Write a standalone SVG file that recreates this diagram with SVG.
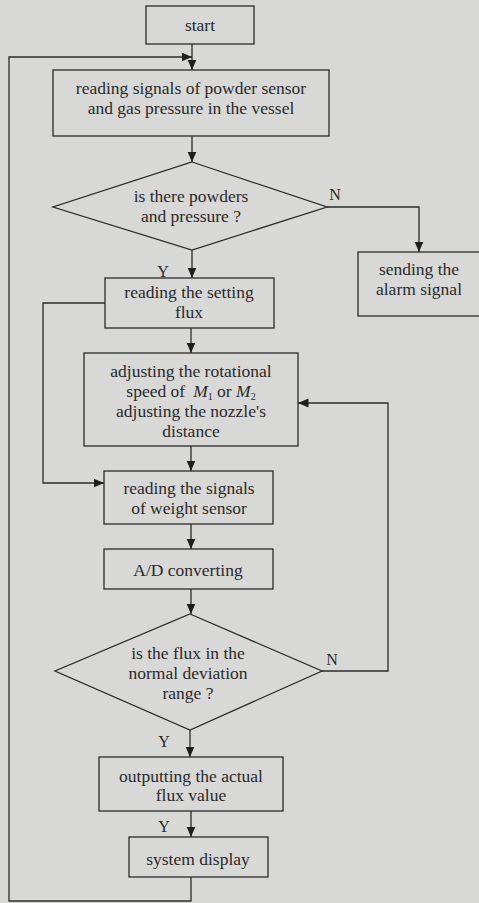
<svg xmlns="http://www.w3.org/2000/svg" width="479" height="903" viewBox="0 0 479 903">
<defs>
<marker id="ah" markerUnits="userSpaceOnUse" markerWidth="11" markerHeight="10" refX="10.5" refY="4.5" orient="auto">
<path d="M0,0 L10.5,4.5 L0,9 z" fill="#1e1e1e"/>
</marker>
</defs>
<style>
.n rect, .n polygon { fill: none; stroke: #2b2b2b; stroke-width: 1.3; }
text { font-family: "Liberation Serif", "Times New Roman", serif; font-size: 17.5px; fill: #2a2a2a; text-anchor: middle; }
.c line, .c polyline { fill: none; stroke: #2b2b2b; stroke-width: 1.3; marker-end: url(#ah); }
.lbl { font-size: 16px; }
</style>
<rect x="0" y="0" width="479" height="903" fill="#d8d8d6"/>
<g class="c" id="connectors">
<line x1="192" y1="44" x2="192" y2="70"/>
<polyline points="191,877 191,901 9,901 9,57 192,57"/>
<line x1="192" y1="136" x2="192" y2="162"/>
<polyline points="327,207 419,207 419,252"/>
<line x1="192" y1="250" x2="192" y2="278"/>
<line x1="191" y1="328" x2="191" y2="353"/>
<polyline points="105,303 43,303 43,483 104,483"/>
<line x1="191" y1="446" x2="191" y2="471"/>
<line x1="191" y1="524" x2="191" y2="549"/>
<line x1="191" y1="589" x2="191" y2="614"/>
<polyline points="322,671 388,671 388,403 298,403"/>
<line x1="190" y1="730" x2="190" y2="757"/>
<line x1="191" y1="811" x2="191" y2="837"/>
</g>
<g class="n" id="start"><rect x="146" y="6" width="108" height="38"/><text x="200" y="31">start</text></g>
<g class="n" id="read-signals"><rect x="53" y="70" width="276" height="66"/><text x="191" y="94">reading signals of powder sensor</text><text x="191" y="114">and gas pressure in the vessel</text></g>
<g class="n" id="decision1"><polygon points="192,162 327,207 192,250 53,207"/><text x="191" y="202">is there powders</text><text x="191" y="222">and pressure ?</text></g>
<g class="n" id="alarm"><rect x="358" y="252" width="124" height="64"/><text x="419" y="275">sending the</text><text x="419" y="295">alarm signal</text></g>
<g class="n" id="setting-flux"><rect x="105" y="278" width="169" height="50"/><text x="189" y="298">reading the setting</text><text x="189" y="318">flux</text></g>
<g class="n" id="adjust"><rect x="84" y="353" width="214" height="93"/><text x="191" y="377">adjusting the rotational</text><text x="191" y="397">speed of<tspan dx="8" font-style="italic">M</tspan><tspan font-size="10" dy="3">1</tspan><tspan dy="-3"> or </tspan><tspan font-style="italic">M</tspan><tspan font-size="10" dy="3">2</tspan></text><text x="191" y="417">adjusting the nozzle's</text><text x="191" y="437">distance</text></g>
<g class="n" id="weight"><rect x="104" y="471" width="169" height="53"/><text x="189" y="494">reading the signals</text><text x="189" y="514">of weight sensor</text></g>
<g class="n" id="ad"><rect x="104" y="549" width="169" height="40"/><text x="188" y="576">A/D converting</text></g>
<g class="n" id="decision2"><polygon points="190,614 322,671 190,730 55,671"/><text x="188" y="659">is the flux in the</text><text x="188" y="679">normal deviation</text><text x="188" y="699">range ?</text></g>
<g class="n" id="output"><rect x="99" y="757" width="184" height="54"/><text x="191" y="782">outputting the actual</text><text x="191" y="801">flux value</text></g>
<g class="n" id="display"><rect x="129" y="837" width="139" height="40"/><text x="198" y="865">system display</text></g>
<g id="labels">
<text class="lbl" x="335" y="200">N</text>
<text class="lbl" x="163" y="277">Y</text>
<text class="lbl" x="332" y="665">N</text>
<text class="lbl" x="164" y="747">Y</text>
<text class="lbl" x="164" y="832">Y</text>
</g>
</svg>
